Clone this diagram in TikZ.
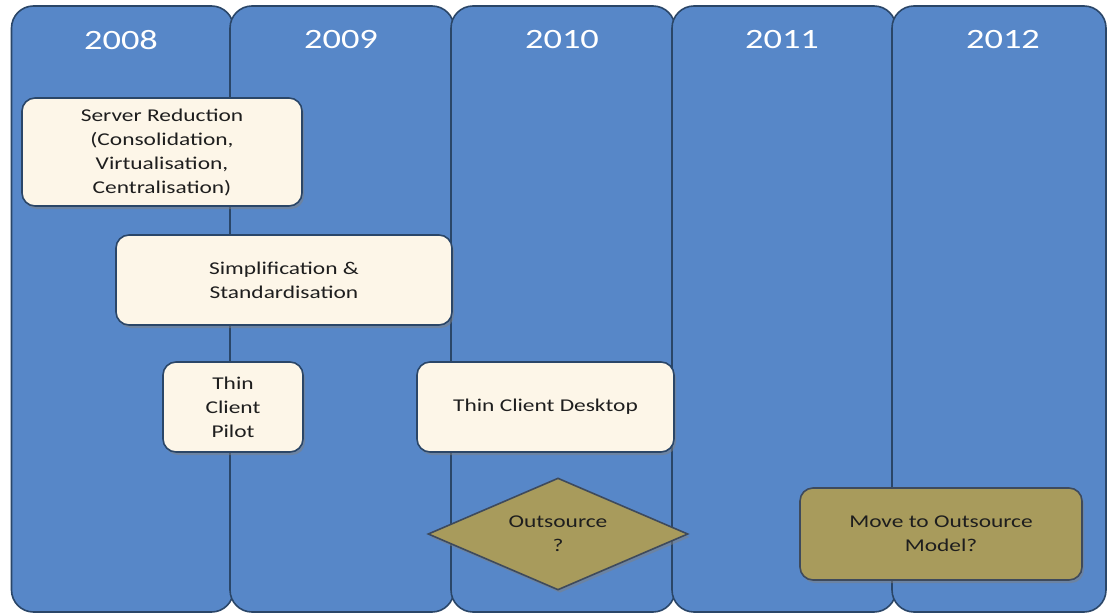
\documentclass[tikz,border=0pt]{standalone}
\usepackage{fontspec}
\setmainfont{Carlito}[FakeStretch=1.3]
\usetikzlibrary{shapes.geometric,shadows}

\definecolor{colblue}{HTML}{5787C8}
\definecolor{colline}{HTML}{2A4668}
\definecolor{cream}{HTML}{FDF6E8}
\definecolor{olive}{HTML}{A89B5C}
\definecolor{oliveline}{HTML}{3E4A5C}
\definecolor{inktext}{HTML}{1E1E1E}

\tikzset{
  yearcol/.style={draw=colline, line width=1.6pt, fill=colblue,
    rounded corners=22pt, inner sep=0pt, minimum height=606pt},
  yearlabel/.style={text=white, font=\fontsize{28}{30}\selectfont},
  taskbox/.style={draw=colline, line width=1.6pt, fill=cream,
    rounded corners=13pt, inner sep=0pt, align=center, text=inktext,
    font=\fontsize{18}{24}\selectfont,
    drop shadow={shadow xshift=2pt, shadow yshift=-3pt, opacity=0.5}},
  optbox/.style={taskbox, fill=olive, draw=oliveline},
  optdiamond/.style={diamond, shape aspect=2.32, draw=oliveline,
    line width=1.6pt, fill=olive, inner sep=0pt, align=center,
    text=inktext, font=\fontsize{18}{24}\selectfont,
    drop shadow={shadow xshift=2pt, shadow yshift=-3pt, opacity=0.5}}
}

\begin{document}
\begin{tikzpicture}[x=1pt, y=-1pt]
  \useasboundingbox (0,0) rectangle (1107,615);
  \fill[white] (0,0) rectangle (1107,615);

  % year columns, each drawn over the right edge of the previous one
  \node[yearcol, minimum width=222pt] (c2008) at (122.5,309) {};
  \node[yearcol, minimum width=224pt] (c2009) at (342,309) {};
  \node[yearcol, minimum width=224pt] (c2010) at (563,309) {};
  \node[yearcol, minimum width=224pt] (c2011) at (784,309) {};
  \node[yearcol, minimum width=214pt] (c2012) at (999,309) {};

  \node[yearlabel] (y2008) at (121,40) {2008};
  \node[yearlabel] (y2009) at (341,40) {2009};
  \node[yearlabel] (y2010) at (562,40) {2010};
  \node[yearlabel] (y2011) at (782,40) {2011};
  \node[yearlabel] (y2012) at (1003,40) {2012};

  % activities
  \node[taskbox, minimum width=280pt, minimum height=108pt] (server) at (162,152)
    {Server Reduction\\(Consolidation,\\Virtualisation,\\Centralisation)};
  \node[taskbox, minimum width=336pt, minimum height=90pt] (simple) at (284,280)
    {Simplification \&\\Standardisation};
  \node[taskbox, minimum width=140pt, minimum height=90pt] (pilot) at (233,407)
    {Thin\\Client\\Pilot};
  \node[taskbox, minimum width=257pt, minimum height=90pt] (desktop) at (545.5,407)
    {Thin Client Desktop};

  % outsourcing options
  \node[optdiamond, minimum width=260pt, minimum height=112pt] (outq) at (558,534)
    {Outsource\\?};
  \node[optbox, minimum width=282pt, minimum height=92pt] (model) at (941,534)
    {Move to Outsource\\Model?};
\end{tikzpicture}
\end{document}
